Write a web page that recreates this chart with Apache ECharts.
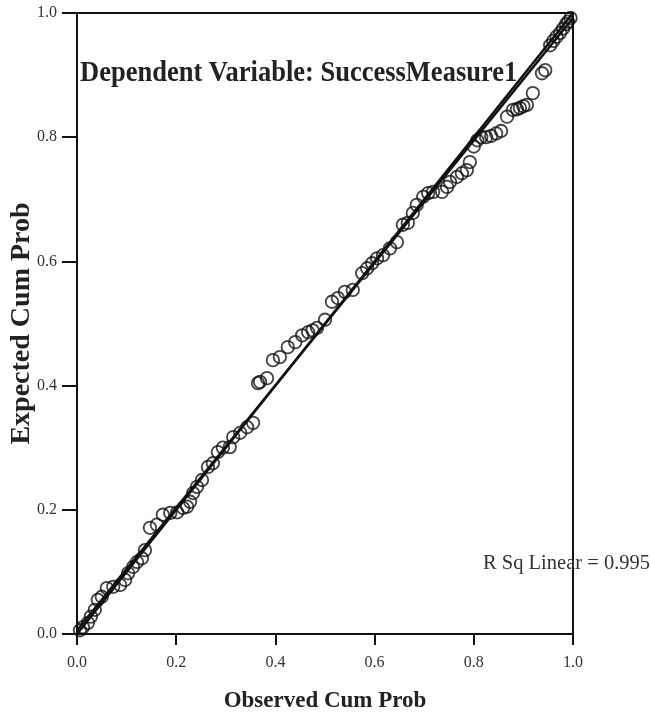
<!DOCTYPE html>
<html>
<head>
<meta charset="utf-8">
<script src="https://cdn.jsdelivr.net/npm/echarts@6/dist/echarts.min.js"></script>
<style>
  html, body { margin: 0; padding: 0; background: #fff; }
  #main { width: 651px; height: 718px; }
</style>
</head>
<body>
<div id="main"></div>
<script>
// observed vs expected cumulative probabilities
const observed = [
  0.006, 0.012, 0.022, 0.028, 0.036, 0.042, 0.05, 0.06, 0.073, 0.087,
  0.097, 0.103, 0.113, 0.121, 0.131, 0.137, 0.147, 0.161, 0.173, 0.188,
  0.202, 0.214, 0.222, 0.228, 0.234, 0.242, 0.252, 0.264, 0.274, 0.284,
  0.294, 0.308, 0.315, 0.329, 0.343, 0.355,
  0.365, 0.369, 0.383, 0.395, 0.409, 0.425, 0.44, 0.454, 0.466, 0.475,
  0.484, 0.5, 0.514, 0.526, 0.54, 0.556, 0.575, 0.585, 0.595, 0.605,
  0.617, 0.631, 0.645, 0.657, 0.667, 0.677, 0.685, 0.698, 0.708, 0.718,
  0.736, 0.746, 0.752, 0.766, 0.776, 0.786, 0.792, 0.8, 0.807, 0.815,
  0.825, 0.835, 0.845, 0.855, 0.867, 0.879, 0.887, 0.893, 0.9, 0.907,
  0.919, 0.9375, 0.944, 0.954, 0.96, 0.967, 0.974, 0.98, 0.986, 0.99, 0.995
];
const expected = [
  0.006, 0.011, 0.018, 0.028, 0.039, 0.055, 0.06, 0.074, 0.076, 0.079,
  0.087, 0.098, 0.108, 0.116, 0.122, 0.135, 0.171, 0.176, 0.192, 0.195,
  0.196, 0.203, 0.205, 0.213, 0.227, 0.237, 0.248, 0.269, 0.275, 0.293,
  0.3, 0.301, 0.317, 0.324, 0.333, 0.34,
  0.404, 0.406, 0.412, 0.441, 0.446, 0.462, 0.47, 0.481, 0.486, 0.489,
  0.493, 0.506, 0.535, 0.541, 0.551, 0.554, 0.581, 0.589, 0.597, 0.605,
  0.61, 0.621, 0.631, 0.659, 0.662, 0.678, 0.691, 0.704, 0.71, 0.712,
  0.712, 0.72, 0.728, 0.736, 0.742, 0.747, 0.76, 0.785, 0.795, 0.8,
  0.8, 0.802, 0.806, 0.81, 0.833, 0.844, 0.845, 0.847, 0.85, 0.852,
  0.871, 0.903, 0.908, 0.948, 0.955, 0.962, 0.968, 0.975, 0.982, 0.986, 0.992
];
// reference diagonal and linear fit line end points
const diagonal = [[0, 0], [1, 1]];
const fitLine = [[0, 0.006], [1, 0.992]];

const serif = '"Liberation Serif", "DejaVu Serif", serif';
const points = observed.map((x, i) => [x, expected[i]]);

const chart = echarts.init(document.getElementById('main'));

const axisCommon = {
  type: 'value',
  min: 0,
  max: 1,
  interval: 0.2,
  axisLine: { show: true, onZero: false, lineStyle: { color: '#111', width: 2 } },
  splitLine: { show: false },
  axisLabel: {
    color: '#333',
    fontFamily: serif,
    fontSize: 16,
    formatter: v => v.toFixed(1)
  }
};

chart.setOption({
  backgroundColor: '#fff',
  animation: false,
  grid: {
    left: 77, right: 78, top: 13, bottom: 84,
    show: true,
    borderColor: '#111',
    borderWidth: 2,
    containLabel: false,
    outerBoundsMode: 'none'
  },
  xAxis: Object.assign({}, axisCommon, {
    name: 'Observed Cum Prob',
    nameLocation: 'middle',
    nameGap: 56,
    nameTextStyle: { color: '#222', fontFamily: serif, fontSize: 23, fontWeight: 'bold' },
    axisTick: { show: true, length: 11, lineStyle: { color: '#111', width: 2 } },
    axisLabel: Object.assign({}, axisCommon.axisLabel, { margin: 21 })
  }),
  yAxis: Object.assign({}, axisCommon, {
    name: 'Expected Cum Prob',
    nameLocation: 'middle',
    nameGap: 41,
    nameMoveOverlap: false,
    nameTextStyle: { color: '#222', fontFamily: serif, fontSize: 28, fontWeight: 'bold' },
    axisTick: { show: true, length: 15, lineStyle: { color: '#111', width: 2 } },
    axisLabel: Object.assign({}, axisCommon.axisLabel, { margin: 20 })
  }),
  graphic: [
    {
      type: 'text',
      left: 80,
      top: 58,
      scaleY: 1.15,
      style: {
        text: 'Dependent Variable: SuccessMeasure1',
        fill: '#222',
        font: 'bold 26.5px ' + serif
      }
    },
    {
      type: 'text',
      left: 483,
      top: 553,
      z: 10,
      style: {
        text: 'R Sq Linear = 0.995',
        fill: '#333',
        font: '20.5px ' + serif
      }
    }
  ],
  series: [
    {
      type: 'line',
      data: diagonal,
      symbol: 'none',
      lineStyle: { color: '#111', width: 2.5 },
      z: 2
    },
    {
      type: 'line',
      data: fitLine,
      symbol: 'none',
      lineStyle: { color: '#111', width: 2.5 },
      z: 2
    },
    {
      type: 'scatter',
      data: points,
      symbol: 'circle',
      symbolSize: 12.5,
      itemStyle: { color: 'rgba(0,0,0,0)', borderColor: '#111', borderWidth: 1.8 },
      z: 3
    }
  ]
});
</script>
</body>
</html>
